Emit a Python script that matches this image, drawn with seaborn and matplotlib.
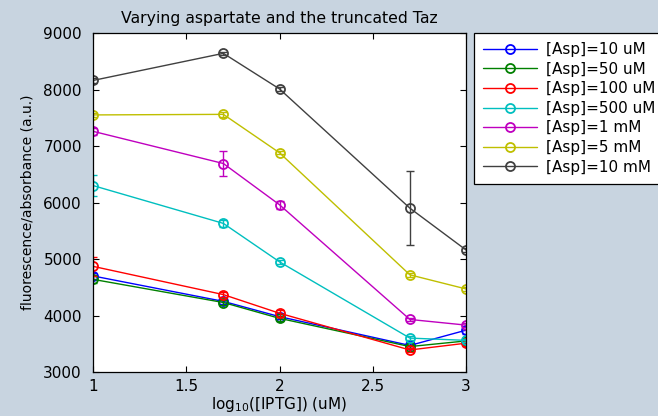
import numpy as np
import pandas as pd
import matplotlib
matplotlib.use("Agg")
import matplotlib.pyplot as plt
import seaborn as sns

x_vals = [1.0, 1.699, 2.0, 2.699, 3.0]
labels = ["[Asp]=10 uM", "[Asp]=50 uM", "[Asp]=100 uM", "[Asp]=500 uM",
          "[Asp]=1 mM", "[Asp]=5 mM", "[Asp]=10 mM"]
asp_10uM = [4700, 4250, 3980, 3470, 3740]
asp_50uM = [4640, 4230, 3950, 3450, 3550]
asp_100uM = [4870, 4370, 4040, 3390, 3510]
asp_500uM = [6300, 5630, 4950, 3600, 3560]
asp_1mM = [7260, 6690, 5960, 3930, 3830]
asp_5mM = [7550, 7560, 6880, 4720, 4470]
asp_10mM = [8160, 8640, 8010, 5900, 5160]
err_10uM = [60, 50, 40, 40, 60]
err_50uM = [60, 40, 40, 30, 40]
err_100uM = [170, 50, 60, 40, 50]
err_500uM = [180, 60, 30, 30, 30]
err_1mM = [60, 220, 70, 30, 40]
err_5mM = [40, 40, 30, 30, 30]
err_10mM = [40, 30, 40, 660, 40]

series = [asp_10uM, asp_50uM, asp_100uM, asp_500uM, asp_1mM, asp_5mM, asp_10mM]
errors = [err_10uM, err_50uM, err_100uM, err_500uM, err_1mM, err_5mM, err_10mM]
colors = [(0, 0, 1), (0, 0.5, 0), (1, 0, 0), (0, 0.75, 0.75),
          (0.75, 0, 0.75), (0.75, 0.75, 0), (0.25, 0.25, 0.25)]

sns.set_style("ticks")
plt.rcParams['font.family'] = ['DejaVu Sans']
plt.rcParams['text.color'] = 'black'
plt.rcParams['axes.labelcolor'] = 'black'

bg = "#c8d4e0"
fig = plt.figure(figsize=(6.58, 4.16), dpi=100, facecolor=bg)
ax = fig.add_axes([93/658, 44/416, (466-93)/658, (372-33)/416])
ax.set_facecolor("white")

for vals, errs, col, lab in zip(series, errors, colors, labels):
    df = pd.DataFrame({"x": x_vals, "y": vals})
    sns.lineplot(data=df, x="x", y="y", ax=ax, color=col, label=lab,
                 marker="o", markersize=6.5, markerfacecolor="none",
                 markeredgecolor=col, markeredgewidth=1.3, linewidth=1.0)
    ax.errorbar(x_vals, vals, yerr=errs, fmt="none", ecolor=col,
                elinewidth=1.0, capsize=3, capthick=1.0)

ax.set_xlim(1, 3)
ax.set_ylim(3000, 9000)
ax.set_xticks([1, 1.5, 2, 2.5, 3])
ax.set_xticklabels(["1", "1.5", "2", "2.5", "3"])
ax.set_yticks([3000, 4000, 5000, 6000, 7000, 8000, 9000])
ax.tick_params(direction="in", top=True, right=True, labelsize=11,
               length=4, width=0.8, colors="black")
ax.tick_params(axis="y", pad=8)
ax.tick_params(axis="x", pad=5)
for s in ax.spines.values():
    s.set_visible(True)
    s.set_linewidth(0.9)
    s.set_color("black")

ax.set_title("Varying aspartate and the truncated Taz", fontsize=11.3, pad=7,
             color="black")
ax.set_xlabel("log$_{10}$([IPTG]) (uM)", fontsize=11, labelpad=1)
ax.set_ylabel("fluorescence/absorbance (a.u.)", fontsize=10, labelpad=6)

leg = ax.legend(loc="upper left", bbox_to_anchor=(474/658, 1 - 33/416),
                bbox_transform=fig.transFigure, fontsize=11, frameon=True,
                fancybox=False, framealpha=1, edgecolor="black",
                handlelength=3.5, borderaxespad=0, labelspacing=0.3,
                borderpad=0.6, handletextpad=0.6)
leg.get_frame().set_linewidth(0.9)
for t in leg.get_texts():
    t.set_color("black")

fig.savefig("out.png", dpi=100, facecolor=bg)
